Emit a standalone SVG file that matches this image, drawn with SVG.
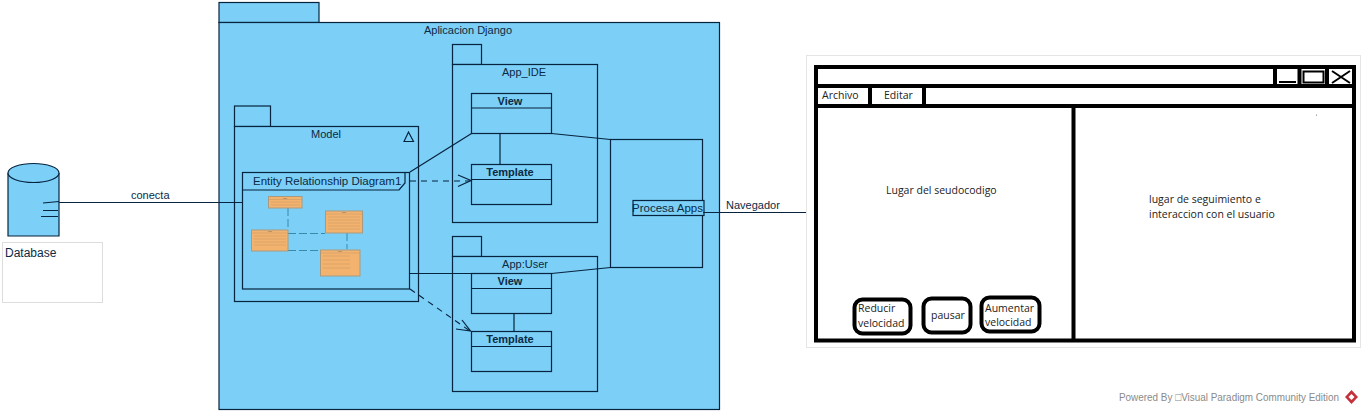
<svg xmlns="http://www.w3.org/2000/svg" width="1363" height="414" viewBox="0 0 1363 414">
<style>
text{font-family:"Liberation Sans",Arial,sans-serif;fill:#0b2a45;font-size:11px}
.c{text-anchor:middle}
.b{font-weight:bold}
.s{fill:#7ccff6;stroke:#06233f;stroke-width:1.2}
.n{fill:none;stroke:#06233f;stroke-width:1.2}
.d{fill:none;stroke:#06233f;stroke-width:1.1;stroke-dasharray:6 5}
.e{fill:#f4b26f;stroke:#a89a80;stroke-width:1}
.el{fill:none;stroke:#c99a66;stroke-width:.6}
.t{fill:#4a5a5a;font-size:1.8px}
.r{stroke:#1d6a8a;stroke-width:.7;fill:none;stroke-dasharray:8 3}
.k{fill:#fff;stroke:#000;stroke-width:4}
.h{font-family:"Open Sans","Noto Sans",sans-serif;fill:#222;font-size:10.5px}
</style>
<rect width="1363" height="414" fill="#fff"/>
<g id="database">
<path class="s" d="M8 173V236H59V173"/>
<ellipse class="s" cx="33.500" cy="173" rx="25.500" ry="9.500"/>
<path class="n" d="M43 203L59 201.500M43 210.500H58M41 216.500H58"/>
<rect x="2.500" y="242.500" width="100" height="60" fill="#fff" stroke="#ddd"/>
<text x="5" y="257" style="font-size:12px">Database</text>
</g>
<g id="aplicacion-django">
<rect class="s" x="219" y="2.500" width="100" height="20"/>
<rect class="s" x="219" y="22.500" width="500.500" height="387"/>
<text class="c" x="468" y="34">Aplicacion Django</text>
</g>
<g id="model">
<rect class="s" x="234.500" y="106" width="36" height="20.500"/>
<rect class="s" x="234.500" y="126.500" width="184" height="175"/>
<text class="c" x="326" y="138">Model</text>
<path class="n" d="M404 141.500L408.500 132L413.500 141.500Z"/>
</g>
<g id="erd">
<rect class="n" x="242.500" y="172.500" width="167" height="116.500"/>
<path class="n" d="M242.500 190H399L405 183V172.500"/>
<text x="253" y="185" style="font-size:11.500px">Entity Relationship Diagram1</text>
<path class="r" d="M288 208V230M288 233.500H325M288 250.500H321M347 233V249"/>
<g>
<rect class="e" x="268.500" y="196.500" width="33.500" height="11.500"/>
<path class="el" d="M268.500 199.500H302M271 202H300M271 205H300"/>
<text class="t" x="285" y="198.700" text-anchor="middle">entity</text>
</g>
<g>
<rect class="e" x="325.500" y="211" width="37" height="22"/>
<path class="el" d="M325.500 214H362.500M328 217H360M328 220H360M328 223H360M328 226H360M328 229H360"/>
<text class="t" x="344" y="213.200" text-anchor="middle">entity</text>
</g>
<g>
<rect class="e" x="251.500" y="230" width="36.500" height="21"/>
<path class="el" d="M251.500 233H288M254 236H286M254 239H286M254 242H286M254 245H286"/>
<text class="t" x="270" y="232.200" text-anchor="middle">entity</text>
</g>
<g>
<rect class="e" x="320.500" y="250" width="39.500" height="26"/>
<path class="el" d="M320.500 253H360M323 256H350M323 260H350M323 264H350M323 268H350"/>
<text class="t" x="340" y="252.200" text-anchor="middle">entity</text>
</g>
</g>
<g id="app-ide">
<rect class="s" x="452.500" y="44.500" width="29" height="20"/>
<rect class="s" x="452.500" y="64.500" width="145" height="158"/>
<text class="c" x="524" y="76">App_IDE</text>
</g>
<g id="view-ide">
<rect class="s" x="471.500" y="93.500" width="80" height="40"/>
<path class="n" d="M471.500 108H551.500"/>
<text class="c b" x="510" y="104.500">View</text>
</g>
<g id="template-ide">
<rect class="s" x="471.500" y="164.500" width="80" height="40"/>
<path class="n" d="M471.500 179.500H551.500"/>
<text class="c b" x="510" y="176">Template</text>
</g>
<g id="app-user">
<rect class="s" x="452.500" y="236.500" width="29" height="20"/>
<rect class="s" x="452.500" y="256.500" width="145" height="135"/>
<text class="c" x="525" y="268">App:User</text>
</g>
<g id="view-user">
<rect class="s" x="471.500" y="273.500" width="80" height="40"/>
<path class="n" d="M471.500 288.500H551.500"/>
<text class="c b" x="510" y="285">View</text>
</g>
<g id="template-user">
<rect class="s" x="471.500" y="331.500" width="80" height="40"/>
<path class="n" d="M471.500 346.500H551.500"/>
<text class="c b" x="510" y="343">Template</text>
</g>
<g id="procesa-apps">
<rect class="s" x="610.500" y="139.500" width="92" height="128"/>
<rect class="s" x="633" y="200.500" width="71" height="15"/>
<text x="632" y="212" style="font-size:11.500px">Procesa Apps</text>
</g>
<g id="connectors">
<path class="n" d="M59 202.500H242.500M703 212.500H806M410 172L471.500 133.500M551.500 133.500L610.500 139.500M500 133.500V164.500M410 273.500H471.500M551.500 273.500L610.500 267.500M514 313.500V331.500"/>
<path class="d" d="M410 181H470M410 289L470 331"/>
<path class="n" d="M458 175L471 180.500L458 186.500M462 320L470.500 331L456 329"/>
</g>
<text x="131" y="199">conecta</text>
<text x="726" y="209">Navegador</text>
<g id="mockup">
<rect x="806.500" y="55.500" width="554" height="292" fill="#fff" stroke="#e5e5e5"/>
<rect x="816" y="67" width="538" height="273.500" fill="#fff" stroke="#000" stroke-width="4"/>
<path d="M816 86H1354M816 106H1354M1073.500 106V340M1275 67V86M1299.500 67V86M1327 67V86M870 86V106M924 86V106" stroke="#000" stroke-width="4" fill="none"/>
<path d="M1279 82H1296" stroke="#000" stroke-width="2"/>
<rect x="1303.500" y="71.500" width="20" height="11" fill="#fff" stroke="#000" stroke-width="2"/>
<path d="M1332 71L1350 83M1350 71L1332 83" stroke="#000" stroke-width="2"/>
<text class="h" x="822" y="99">Archivo</text>
<text class="h" x="884" y="99">Editar</text>
<text class="h" x="886" y="194">Lugar del seudocodigo</text>
<text class="h" x="1149" y="203">lugar de seguimiento e</text>
<text class="h" x="1149" y="218">interaccion con el usuario</text>
<rect class="k" x="854.500" y="299.500" width="56" height="34" rx="8"/>
<text class="h" x="858" y="312">Reducir</text>
<text class="h" x="858" y="327">velocidad</text>
<rect class="k" x="923.500" y="298.500" width="47" height="34" rx="8"/>
<text class="h" x="931" y="319">pausar</text>
<rect class="k" x="981.500" y="297.500" width="58" height="34" rx="8"/>
<text class="h" x="985" y="312">Aumentar</text>
<text class="h" x="985" y="326">velocidad</text>
<circle cx="1316.500" cy="115" r=".6" fill="#666"/>
</g>
<g id="watermark">
<text x="1119" y="401" textLength="220" lengthAdjust="spacingAndGlyphs" style="fill:#8a8a8a;font-size:10.500px">Powered By □Visual Paradigm Community Edition</text>
<path d="M1351.500 390L1358 397L1351.500 404L1345 397Z" fill="#c4313a"/>
<path d="M1351.500 394L1354.500 397L1351.500 400L1348.500 397Z" fill="#fff"/>
</g>
</svg>
